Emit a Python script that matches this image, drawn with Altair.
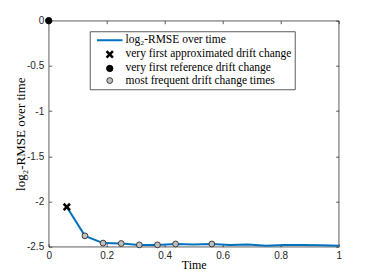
import altair as alt
import pandas as pd

# ---- data ----
time = [0.0625, 0.125, 0.1875, 0.25, 0.3125, 0.375, 0.4375, 0.5,
        0.5625, 0.625, 0.6875, 0.75, 0.8125, 0.875, 0.9375, 1.0]
log2_rmse = [-2.06, -2.38, -2.46, -2.465, -2.48, -2.48, -2.47, -2.475,
             -2.47, -2.48, -2.475, -2.49, -2.48, -2.48, -2.485, -2.49]

approx_t = [0.0625]
approx_v = [-2.06]
ref_t = [0.0]
ref_v = [0.0]
freq_t = [0.125, 0.1875, 0.25, 0.3125, 0.375, 0.4375, 0.5625]
freq_v = [-2.38, -2.46, -2.465, -2.48, -2.48, -2.47, -2.47]

series = ["log\u2082-RMSE over time",
          "very first approximated drift change",
          "very first reference drift change",
          "most frequent drift change times"]

x_ticks = [0, 0.1, 0.2, 0.3, 0.4, 0.5, 0.6, 0.7, 0.8, 0.9, 1]
y_ticks = [-2.5, -2, -1.5, -1, -0.5, 0]

W, H = 290, 226
SERIF = "Liberation Serif"

line_df = pd.DataFrame({"t": time, "v": log2_rmse})
pts_df = pd.concat([
    pd.DataFrame({"t": approx_t, "v": approx_v, "s": series[1]}),
    pd.DataFrame({"t": ref_t, "v": ref_v, "s": series[2]}),
    pd.DataFrame({"t": freq_t, "v": freq_v, "s": series[3]}),
], ignore_index=True)

x_enc = alt.X("t:Q", title="Time",
              scale=alt.Scale(domain=[0, 1], nice=False, zero=False),
              axis=alt.Axis(values=x_ticks, labelExpr="toString(datum.value)",
                            grid=True, gridDash=[3, H - 6, 3],
                            gridColor="#262626", gridWidth=0.75, gridOpacity=1,
                            ticks=False, domain=False, labelFlush=False,
                            labelPadding=4, labelFont="Liberation Sans",
                            labelFontSize=10, labelColor="#262626",
                            titleFont=SERIF, titleFontSize=12,
                            titleFontWeight="normal", titleColor="black",
                            titleX=W / 2, titleY=17.5, titleBaseline="middle"))
y_enc = alt.Y("v:Q", title="log\u2082-RMSE over time",
              scale=alt.Scale(domain=[-2.5, 0], nice=False, zero=False),
              axis=alt.Axis(values=y_ticks, labelExpr="toString(datum.value)",
                            grid=True, gridDash=[3, W - 6, 3],
                            gridColor="#262626", gridWidth=0.75, gridOpacity=1,
                            ticks=False, domain=False, labelFlush=False,
                            labelPadding=5, labelFont="Liberation Sans",
                            labelFontSize=10, labelColor="#262626",
                            titleFont=SERIF, titleFontSize=13,
                            titleFontWeight="normal", titleColor="black",
                            titleX=-28, titleY=H / 2, titleAngle=-90,
                            titleBaseline="middle", titleAlign="center"))

line = alt.Chart(line_df).mark_line(color="#0072BD", strokeWidth=2).encode(
    x=x_enc, y=y_enc)

shapes = ["M-3.2,0L3.2,0", "M-1,-1L1,1M1,-1L-1,1", "circle", "circle"]
sizes = [64, 40, 40, 34]
fills = ["transparent", "black", "black", "#BFBFBF"]
strokes = ["#0072BD", "black", "black", "#3C3C3C"]
widths = [2, 2.5, 1, 1]

legend = alt.Legend(title=None, orient="none", legendX=41.3, legendY=10.8)

pts = alt.Chart(pts_df).mark_point(filled=True, opacity=1).encode(
    x="t:Q", y="v:Q",
    shape=alt.Shape("s:N", scale=alt.Scale(domain=series, range=shapes), legend=legend),
    size=alt.Size("s:N", scale=alt.Scale(type="ordinal", domain=series, range=sizes), legend=legend),
    fill=alt.Fill("s:N", scale=alt.Scale(domain=series, range=fills), legend=legend),
    stroke=alt.Stroke("s:N", scale=alt.Scale(domain=series, range=strokes), legend=legend),
    strokeWidth=alt.StrokeWidth("s:N", scale=alt.Scale(type="ordinal", domain=series, range=widths), legend=legend),
)

chart = alt.layer(line, pts).properties(
    width=W, height=H,
    background="white",
    autosize=alt.AutoSizeParams(type="none"),
    padding={"left": 40.7, "top": 12.7, "right": 20, "bottom": 28},
).configure(
    font=SERIF
).configure_view(
    stroke="#262626", strokeWidth=0.75
).configure_legend(
    fillColor="white", strokeColor="#262626", strokeWidth=0.75,
    padding=3, symbolOffset=11, labelOffset=10, rowPadding=-0.9,
    labelFont=SERIF, labelFontSize=11.5, labelColor="black", labelLimit=400,
)

chart.save("out.html", embed_options={"renderer": "svg", "actions": False})
